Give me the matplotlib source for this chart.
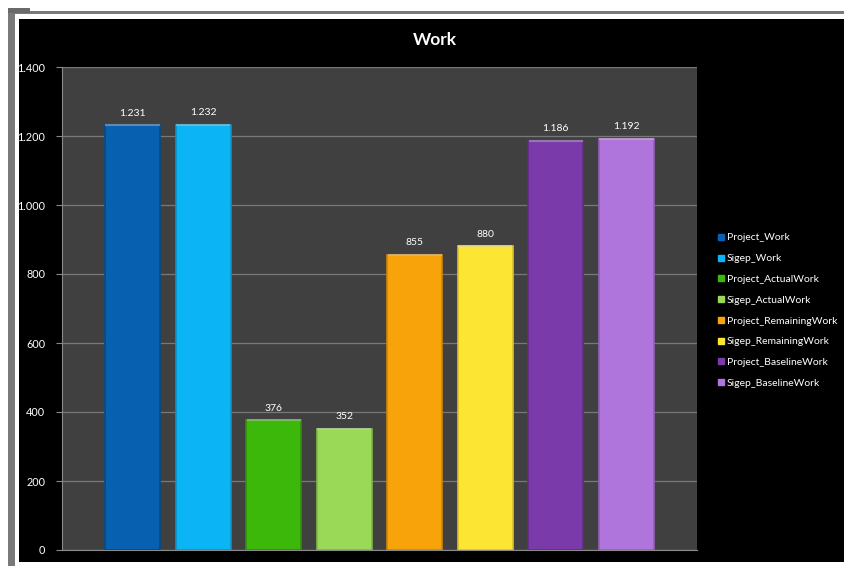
import matplotlib
matplotlib.use("Agg")
import matplotlib.pyplot as plt
from matplotlib.patches import Rectangle
from matplotlib.lines import Line2D

plt.rcParams["font.family"] = ["Lato", "DejaVu Sans"]

series = ["Project_Work", "Sigep_Work", "Project_ActualWork", "Sigep_ActualWork",
          "Project_RemainingWork", "Sigep_RemainingWork", "Project_BaselineWork",
          "Sigep_BaselineWork"]
values = [1231, 1232, 376, 352, 855, 880, 1186, 1192]
colors = ["#0860b0", "#0ab4f5", "#3cb80a", "#9ad857",
          "#f9a30b", "#fde534", "#7a3aaa", "#b075dd"]
edge_colors = ["#064a88", "#0a93c9", "#2f900a", "#7fb846",
               "#cf8508", "#d9c22a", "#5f2c86", "#9360b8"]
yticks = [0, 200, 400, 600, 800, 1000, 1200, 1400]


def fmt(v):
    return f"{v:,}".replace(",", ".")


W, H = 845, 566
fig = plt.figure(figsize=(W / 100, H / 100), dpi=100)
fig.patch.set_facecolor("white")

# frame decoration (gray border and black chart area)
fig.add_artist(Rectangle((19 / W, 1 - 562 / H), 1.0, (562 - 19) / H,
                         transform=fig.transFigure, facecolor="black",
                         edgecolor="none", zorder=0))
fig.add_artist(Rectangle((8 / W, 1 - 14 / H), 1.0, 3 / H,
                         transform=fig.transFigure, facecolor="#7a7a7a",
                         edgecolor="none", zorder=0))
fig.add_artist(Rectangle((8 / W, -0.01), 7 / W, 1.01 - 10 / H,
                         transform=fig.transFigure, facecolor="#7a7a7a",
                         edgecolor="none", zorder=0))
fig.add_artist(Rectangle((8 / W, 1 - 13 / H), 22 / W, 5 / H,
                         transform=fig.transFigure, facecolor="#6a6a6a",
                         edgecolor="none", zorder=0))

ax = fig.add_axes([62 / W, 16 / H, (697 - 62) / W, (550 - 67) / H])
ax.set_facecolor("#404040")

x = list(range(1, len(values) + 1))
bars = ax.bar(x, values, width=0.78, color=colors, edgecolor=edge_colors,
              linewidth=1.2, zorder=3)
# lighter top cap and value labels
for b in bars:
    ax.plot([b.get_x() + 0.02, b.get_x() + b.get_width() - 0.02],
            [b.get_height(), b.get_height()], color="white", alpha=0.35,
            lw=1.5, zorder=4)
    ax.text(b.get_x() + b.get_width() / 2, b.get_height() + 22,
            fmt(int(b.get_height())), ha="center", va="bottom",
            color="white", fontsize=7.5)

ax.set_xlim(0, 9)
ax.set_ylim(0, 1400)
ax.set_yticks(yticks)
ax.set_yticklabels([fmt(v) for v in yticks], color="white", fontsize=7.8)
ax.set_xticks([])
ax.yaxis.grid(True, color="#787878", linewidth=0.9, zorder=1)
ax.set_axisbelow(True)
ax.tick_params(axis="y", colors="#8a8a8a", length=4, width=0.8,
               labelcolor="white", pad=8)
for s in ["top", "right"]:
    ax.spines[s].set_visible(False)
ax.spines["left"].set_color("#8a8a8a")
ax.spines["bottom"].set_color("#8a8a8a")

fig.text(435 / W, 1 - 40 / H, "Work", ha="center", va="center",
         color="white", fontsize=12.5, fontweight="bold")

handles = [Line2D([], [], marker="s", linestyle="none", markersize=4,
                  markerfacecolor=c, markeredgecolor=c) for c in colors]
leg = fig.legend(handles, series, loc="upper left",
                 bbox_to_anchor=(713 / W, 1 - 228 / H), frameon=False,
                 fontsize=7.5, labelcolor="white", handlelength=0.6,
                 handletextpad=0.25, labelspacing=1.1, borderpad=0)

fig.savefig("out.png", dpi=100, facecolor=fig.get_facecolor())
